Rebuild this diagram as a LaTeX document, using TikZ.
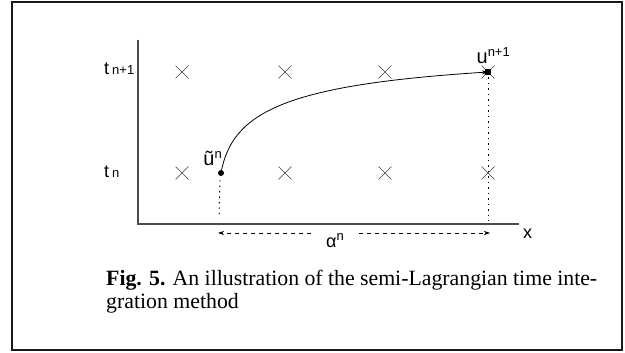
\documentclass[tikz,border=0pt]{standalone}
\usepackage{fontspec}
\setmainfont{Liberation Serif}
\newfontfamily\axisfont{Liberation Sans}
\usetikzlibrary{arrows.meta}

% raised and level indices for the sans labels
\newcommand{\upidx}[1]{\raisebox{7pt}{\fontsize{13}{13}\selectfont #1}}
\newcommand{\lowidx}[1]{{\fontsize{13}{13}\selectfont #1}}

\begin{document}
\begin{tikzpicture}[x=1pt, y=-1pt, >={Stealth[length=6pt, width=4pt]},
    lbl/.style={font=\axisfont\fontsize{18}{18}\selectfont, inner sep=0pt},
    cross/.style={black!75, line width=0.7pt},
    guide/.style={line width=0.9pt, dash pattern=on 1.5pt off 4pt},
    span/.style={line width=0.7pt, dash pattern=on 4pt off 4pt}]
    \useasboundingbox (0,0) rectangle (625,353);
    \draw[line width=1.6pt, black!90] (12,2) rectangle (622,350);

    % axes
    \coordinate (o) at (138,224);
    \coordinate (ytop) at (138,40);
    \coordinate (xend) at (519,224);
    \draw[line width=1.2pt, black!70] (ytop) -- (o) -- (xend);
    \node[lbl, anchor=base west] (xlab) at (523,238) {x};

    \node[lbl, anchor=base west] (tnext) at (104,75) {t\hspace{3pt}\lowidx{n+1}};
    \node[lbl, anchor=base west] (tnow) at (104,178) {t\hspace{3pt}\lowidx{n}};

    % mesh points at both time levels
    \foreach \x in {182,285,385,488}
        \foreach \y in {72,173}
            \draw[cross] (\x-6.5,\y-6.5) -- (\x+6.5,\y+6.5)
                         (\x-6.5,\y+6.5) -- (\x+6.5,\y-6.5);

    % departure point and arrival point
    \coordinate (dep) at (221,173);
    \coordinate (arr) at (488,72);
    \fill (dep) circle (3);
    \fill (arr) +(-2.7,-2.7) rectangle +(2.7,2.7);
    \draw[->, line width=0.8pt] (dep) .. controls (232,112) and (285,85) .. (arr);

    \node[lbl, anchor=base east, font=\axisfont\fontsize{20}{20}\selectfont]
        (ulab) at (222,165) {ũ\upidx{n}};
    \node[lbl, anchor=base east, font=\axisfont\fontsize{20}{20}\selectfont]
        (unext) at (510,64) {u\upidx{n+1}};

    % dotted drop lines to the x axis
    \coordinate (depfoot) at (219,216);
    \coordinate (arrfoot) at (488,221);
    \draw[guide] (220,180) -- (depfoot);
    \draw[guide] (arr) -- (arrfoot);

    % displacement
    \coordinate (aL) at (218,233);
    \coordinate (aR) at (490,233);
    \node[lbl, inner xsep=15pt, font=\axisfont\fontsize{18}{18}\selectfont]
        (alpha) at (335,241) {α\upidx{n}};
    \draw[span, ->] (alpha.west |- aL) -- (aL);
    \draw[span, ->] (alpha.east |- aR) -- (aR);

    \node[anchor=base west, inner sep=0pt, text width=491pt, align=justify,
          font=\fontsize{21.8}{23.5}\selectfont] (cap) at (106,285)
        {\textbf{Fig. 5.} An illustration of the semi-Lagrangian time inte-\linebreak
         gration method};
\end{tikzpicture}
\end{document}
